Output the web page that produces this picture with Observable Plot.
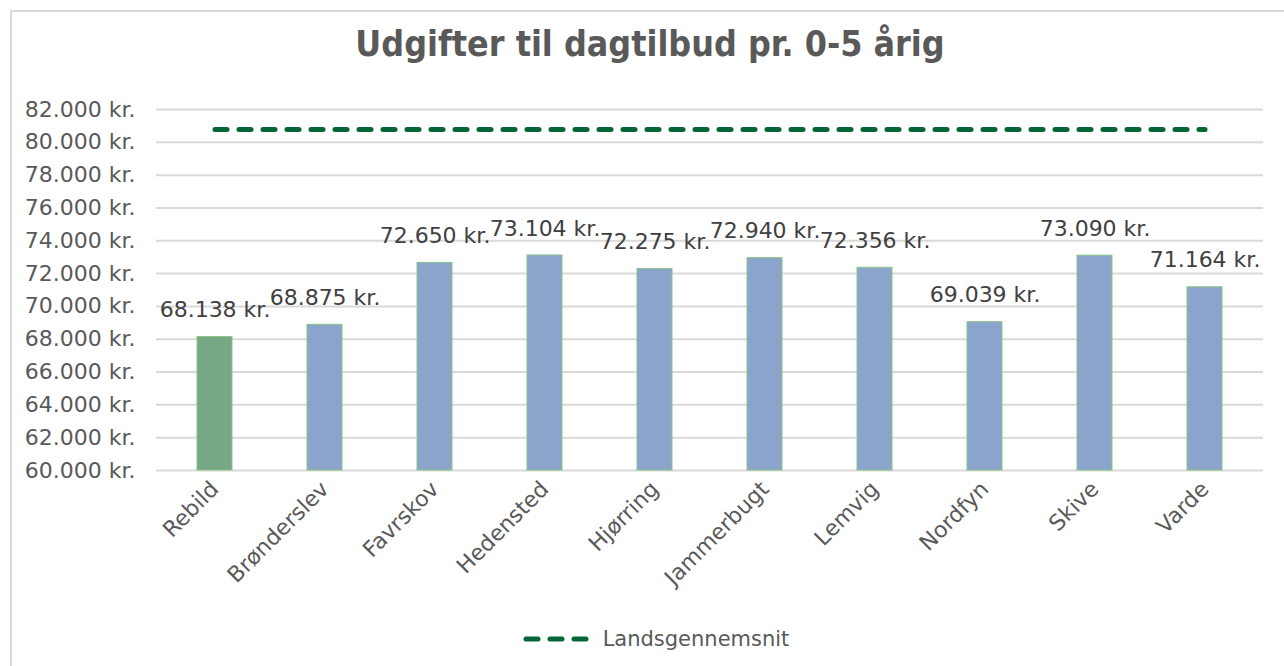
<!DOCTYPE html>
<html><head><meta charset="utf-8">
<script src="https://cdn.jsdelivr.net/npm/d3@7"></script>
<script src="https://cdn.jsdelivr.net/npm/@observablehq/plot@0.6"></script>
<style>
body{margin:0;background:#fff;font-family:"DejaVu Sans",Verdana,sans-serif;}
#frame{position:absolute;left:10px;top:10px;width:1290px;height:700px;border:2px solid #d9d9d9;box-sizing:border-box;}
#title{position:absolute;left:10px;width:1280px;top:23px;text-align:center;font-weight:bold;font-size:35.5px;color:#595959;font-family:"DejaVu Sans Condensed","DejaVu Sans",sans-serif;}
#chart{position:absolute;left:0;top:80px;}
#legend{position:absolute;left:10px;width:1292px;top:627px;display:flex;justify-content:center;align-items:center;font-size:21px;color:#595959;}
#legend span{margin-left:14px;}
</style></head>
<body>
<div id="frame"></div>
<div id="title">Udgifter til dagtilbud pr. 0-5 årig</div>
<div id="chart"></div>
<div id="legend"><svg width="66" height="10"><line x1="3" y1="5" x2="63" y2="5" stroke="#006633" stroke-width="5" stroke-linecap="round" stroke-dasharray="12,12"/></svg><span>Landsgennemsnit</span></div>
<script>
const kommuner = ["Rebild","Brønderslev","Favrskov","Hedensted","Hjørring","Jammerbugt","Lemvig","Nordfyn","Skive","Varde"];
const udgifter = [68138,68875,72650,73104,72275,72940,72356,69039,73090,71164];
const landsgennemsnit = 80780;
const yTicks = [60000,62000,64000,66000,68000,70000,72000,74000,76000,78000,80000,82000];
const yMin = 60000, yMax = 82000;

const data = kommuner.map((k,i)=>({k, v: udgifter[i], rebild: k==="Rebild"}));
const avgLine = kommuner.map(k=>({k, v: landsgennemsnit}));
const fmt = v => d3.format(",")(v).replace(/,/g,".") + " kr.";

const chart = Plot.plot({
  width: 1284, height: 530,
  marginLeft: 156, marginRight: 21, marginTop: 29, marginBottom: 140,
  style: {fontFamily: '"DejaVu Sans", Verdana, sans-serif', fontSize: "22px", color: "#595959", background: "transparent"},
  x: {domain: kommuner, paddingInner: 0.68, paddingOuter: 0.34, label: null},
  y: {domain: [yMin, yMax], label: null},
  marks: [
    Plot.ruleY(yTicks, {stroke: "#d9d9d9", strokeWidth: 2}),
    Plot.barY(data, {x: "k", y1: () => yMin, y2: "v", fill: d => d.rebild ? "#77a886" : "#8aa4cc", stroke: "#88c488", strokeWidth: 1}),
    Plot.line(avgLine, {x: "k", y: "v", stroke: "#006633", strokeWidth: 5, strokeLinecap: "round", strokeDasharray: "12,12"}),
    Plot.text(data, {x: "k", y: "v", text: d => fmt(d.v), dy: -27, fill: "#404040", fontSize: 22}),
    Plot.axisY({ticks: yTicks, tickFormat: fmt, tickSize: 0, tickPadding: 21, fill: "#595959", fontSize: 22, label: null}),
    Plot.axisX({tickSize: 0, tickPadding: 15, tickRotate: -45, fill: "#595959", fontSize: 22, label: null})
  ]
});
document.getElementById("chart").appendChild(chart);
</script>
</body></html>
